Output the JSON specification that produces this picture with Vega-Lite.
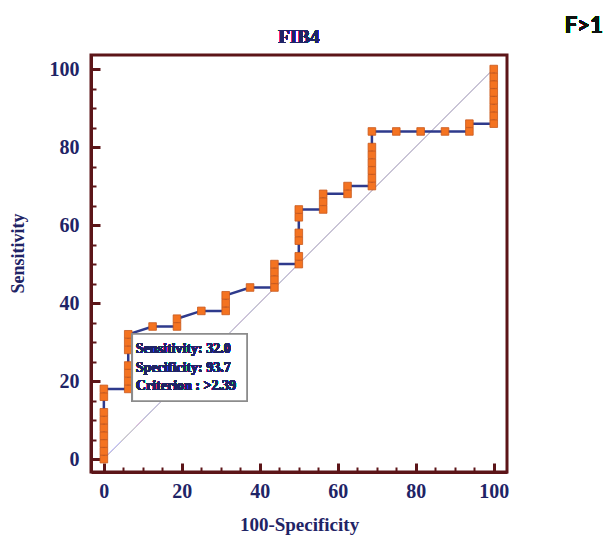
{
  "$schema": "https://vega.github.io/schema/vega-lite/v6.json",
  "width": 416,
  "height": 417,
  "autosize": {"type": "none"},
  "padding": {"left": 91, "top": 55, "right": 102, "bottom": 64},
  "background": "white",
  "config": {"view": {"stroke": "#5c1518", "strokeWidth": 3}},
  "datasets": {
    "roc": [
      {"fpr": 0, "sens": 0}, {"fpr": 0, "sens": 2}, {"fpr": 0, "sens": 4}, {"fpr": 0, "sens": 6}, {"fpr": 0, "sens": 8}, {"fpr": 0, "sens": 10}, {"fpr": 0, "sens": 12}, {"fpr": 0, "sens": 16}, {"fpr": 0, "sens": 18},
      {"fpr": 6.25, "sens": 18}, {"fpr": 6.25, "sens": 20}, {"fpr": 6.25, "sens": 22}, {"fpr": 6.25, "sens": 24}, {"fpr": 6.25, "sens": 28}, {"fpr": 6.25, "sens": 30}, {"fpr": 6.25, "sens": 32},
      {"fpr": 12.5, "sens": 34},
      {"fpr": 18.75, "sens": 34}, {"fpr": 18.75, "sens": 36},
      {"fpr": 25, "sens": 38},
      {"fpr": 31.25, "sens": 38}, {"fpr": 31.25, "sens": 40}, {"fpr": 31.25, "sens": 42},
      {"fpr": 37.5, "sens": 44},
      {"fpr": 43.75, "sens": 44}, {"fpr": 43.75, "sens": 46}, {"fpr": 43.75, "sens": 48}, {"fpr": 43.75, "sens": 50},
      {"fpr": 50, "sens": 50}, {"fpr": 50, "sens": 52}, {"fpr": 50, "sens": 56}, {"fpr": 50, "sens": 58}, {"fpr": 50, "sens": 62}, {"fpr": 50, "sens": 64},
      {"fpr": 56.25, "sens": 64}, {"fpr": 56.25, "sens": 66}, {"fpr": 56.25, "sens": 68},
      {"fpr": 62.5, "sens": 68}, {"fpr": 62.5, "sens": 70},
      {"fpr": 68.75, "sens": 70}, {"fpr": 68.75, "sens": 72}, {"fpr": 68.75, "sens": 74}, {"fpr": 68.75, "sens": 76}, {"fpr": 68.75, "sens": 78}, {"fpr": 68.75, "sens": 80}, {"fpr": 68.75, "sens": 84},
      {"fpr": 75, "sens": 84}, {"fpr": 81.25, "sens": 84}, {"fpr": 87.5, "sens": 84},
      {"fpr": 93.75, "sens": 84}, {"fpr": 93.75, "sens": 86},
      {"fpr": 100, "sens": 86}, {"fpr": 100, "sens": 88}, {"fpr": 100, "sens": 90}, {"fpr": 100, "sens": 92}, {"fpr": 100, "sens": 94}, {"fpr": 100, "sens": 96}, {"fpr": 100, "sens": 98}, {"fpr": 100, "sens": 100}
    ]
  },
  "data": {"name": "roc"},
  "encoding": {
    "x": {
      "field": "fpr", "type": "quantitative",
      "scale": {"domain": [-3.3, 103.4], "nice": false, "zero": false},
      "axis": {
        "title": "100-Specificity",
        "values": [0, 5, 10, 15, 20, 25, 30, 35, 40, 45, 50, 55, 60, 65, 70, 75, 80, 85, 90, 95, 100],
        "labelExpr": "datum.value % 20 === 0 ? datum.label : ''",
        "labelOverlap": false, "labelFlush": false, "grid": false,
        "domainColor": "#5c1518", "domainWidth": 3,
        "tickColor": "#5c1518",
        "tickSize": {"condition": {"test": "datum.value % 20 === 0", "value": -9}, "value": -5},
        "tickWidth": {"condition": {"test": "datum.value % 20 === 0", "value": 3}, "value": 2},
        "labelFont": "Liberation Serif", "labelFontSize": 20, "labelFontWeight": "bold", "labelColor": "#1f2466", "labelPadding": 18,
        "titleFont": "Liberation Serif", "titleFontSize": 19, "titleFontWeight": "bold", "titleColor": "#1f2466", "titlePadding": 10
      }
    },
    "y": {
      "field": "sens", "type": "quantitative",
      "scale": {"domain": [-3.3, 103.6], "nice": false, "zero": false},
      "axis": {
        "title": "Sensitivity",
        "values": [0, 5, 10, 15, 20, 25, 30, 35, 40, 45, 50, 55, 60, 65, 70, 75, 80, 85, 90, 95, 100],
        "labelExpr": "datum.value % 20 === 0 ? datum.label : ''",
        "labelOverlap": false, "labelFlush": false, "grid": false,
        "domainColor": "#5c1518", "domainWidth": 3,
        "tickColor": "#5c1518",
        "tickSize": {"condition": {"test": "datum.value % 20 === 0", "value": -9}, "value": -5},
        "tickWidth": {"condition": {"test": "datum.value % 20 === 0", "value": 3}, "value": 2},
        "labelFont": "Liberation Serif", "labelFontSize": 20, "labelFontWeight": "bold", "labelColor": "#1f2466", "labelPadding": 21,
        "titleFont": "Liberation Serif", "titleFontSize": 18, "titleFontWeight": "bold", "titleColor": "#1f2466", "titlePadding": 22, "titleY": 198
      }
    }
  },
  "layer": [
    {
      "mark": {"type": "rule", "color": "#c9c4d6", "strokeWidth": 1},
      "encoding": {
        "x": {"datum": 0, "type": "quantitative"},
        "y": {"datum": 0, "type": "quantitative"},
        "x2": {"datum": 100},
        "y2": {"datum": 100}
      }
    },
    {
      "mark": {"type": "line", "color": "#2e3a8c", "strokeWidth": 2.5},
      "encoding": {"order": [{"field": "sens"}, {"field": "fpr"}]}
    },
    {
      "mark": {"type": "point", "shape": "square", "filled": true, "size": 58, "fill": "#f47321", "stroke": "#c8581c", "strokeWidth": 0.8, "opacity": 1}
    },
    {
      "mark": {"type": "rect", "fill": "white", "stroke": "#8c8c8c", "strokeWidth": 1.5},
      "encoding": {
        "x": {"datum": 7.3, "type": "quantitative"},
        "x2": {"datum": 36.7},
        "y": {"datum": 32.1, "type": "quantitative"},
        "y2": {"datum": 14.9}
      }
    },
    {
      "mark": {"type": "text", "align": "left", "baseline": "alphabetic", "font": "Liberation Serif", "fontSize": 14, "fontWeight": "bold", "fill": "#1f2466", "lineHeight": 18.5},
      "encoding": {
        "x": {"datum": 8.2, "type": "quantitative"},
        "y": {"datum": 27.2, "type": "quantitative"},
        "text": {"value": ["Sensitivity: 32.0", "Specificity: 93.7", "Criterion : >2.39"]}
      }
    },
    {
      "mark": {"type": "text", "align": "center", "baseline": "alphabetic", "font": "Liberation Serif", "fontSize": 19, "fontWeight": "bold", "fill": "#1f2466"},
      "encoding": {
        "x": {"datum": 50, "type": "quantitative"},
        "y": {"datum": 106.7, "type": "quantitative"},
        "text": {"value": "FIB4"}
      }
    },
    {
      "mark": {"type": "text", "align": "left", "baseline": "alphabetic", "font": "Lato", "fontSize": 22, "fontWeight": "bold", "fill": "#111111"},
      "encoding": {
        "x": {"datum": 118.2, "type": "quantitative"},
        "y": {"datum": 109.2, "type": "quantitative"},
        "text": {"value": "F>1"}
      }
    }
  ]
}
